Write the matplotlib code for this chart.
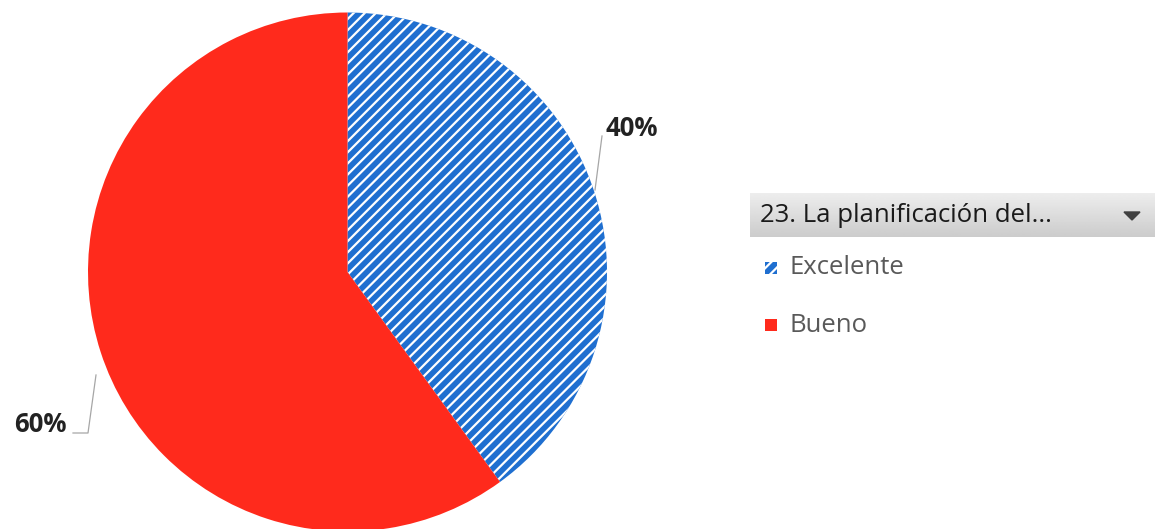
import numpy as np
import matplotlib
matplotlib.use("Agg")
import matplotlib.pyplot as plt
import matplotlib.patches as mpatches

plt.rcParams['font.family'] = ['Open Sans', 'DejaVu Sans']
plt.rcParams['hatch.linewidth'] = 1.6

categories = ["Excelente", "Bueno"]
values = [40, 60]
title = "23. La planificación del..."

BLUE = "#1f6fd0"
RED = "#ff2a1c"

W, H = 1155, 529
fig = plt.figure(figsize=(W / 100, H / 100), dpi=100)
fig.patch.set_facecolor("white")
ax = fig.add_axes([0, 0, 1, 1])

cx, cy, r = 347.5, 257, 259.5
wedges, _ = ax.pie(values, startangle=90, counterclock=False,
                   center=(cx, cy), radius=r,
                   colors=[BLUE, RED],
                   wedgeprops=dict(linewidth=0))
wedges[0].set_hatch("///")
wedges[0].set_edgecolor("white")
wedges[0].set_linewidth(0)

ax.set_xlim(0, W)
ax.set_ylim(0, H)
ax.set_aspect("equal")
ax.axis("off")

# data labels with leader lines
ax.text(605, H - 129, f"{values[0]}%", fontsize=18.5, fontweight="bold",
        color="#222222", ha="left", va="center")
ax.plot([602, 595], [H - 136, H - 190], color="#a6a6a6", lw=0.9)
ax.text(67, H - 424, f"{values[1]}%", fontsize=18.5, fontweight="bold",
        color="#222222", ha="right", va="center")
ax.plot([73, 88, 96], [H - 433, H - 433, H - 375], color="#a6a6a6", lw=0.9)

# legend header (gray gradient bar)
grad = np.linspace(0.93, 0.80, 50).reshape(-1, 1)
ax.imshow(grad, cmap="gray", vmin=0, vmax=1, aspect="auto",
          extent=(750, W, H - 237, H - 193), zorder=2)
ax.text(760, H - 216, title, fontsize=18.5, color="#1a1a1a",
        ha="left", va="center", zorder=3)
ax.add_patch(mpatches.Polygon([[1124, H - 212], [1140, H - 212], [1132, H - 220]],
                              closed=True, color="#404040", zorder=3))

# legend entries
ys = [H - 268, H - 325]
for i, (cat, y) in enumerate(zip(categories, ys)):
    if i == 0:
        sq = mpatches.Rectangle((765, y - 6), 12, 12, facecolor=BLUE,
                                edgecolor="white", hatch="///", lw=0)
    else:
        sq = mpatches.Rectangle((765, y - 6), 12, 12, facecolor=RED, lw=0)
    ax.add_patch(sq)
    ax.text(789, y, cat, fontsize=18.5, color="#595959", ha="left", va="center")

fig.savefig("out.png", dpi=100, facecolor="white")
